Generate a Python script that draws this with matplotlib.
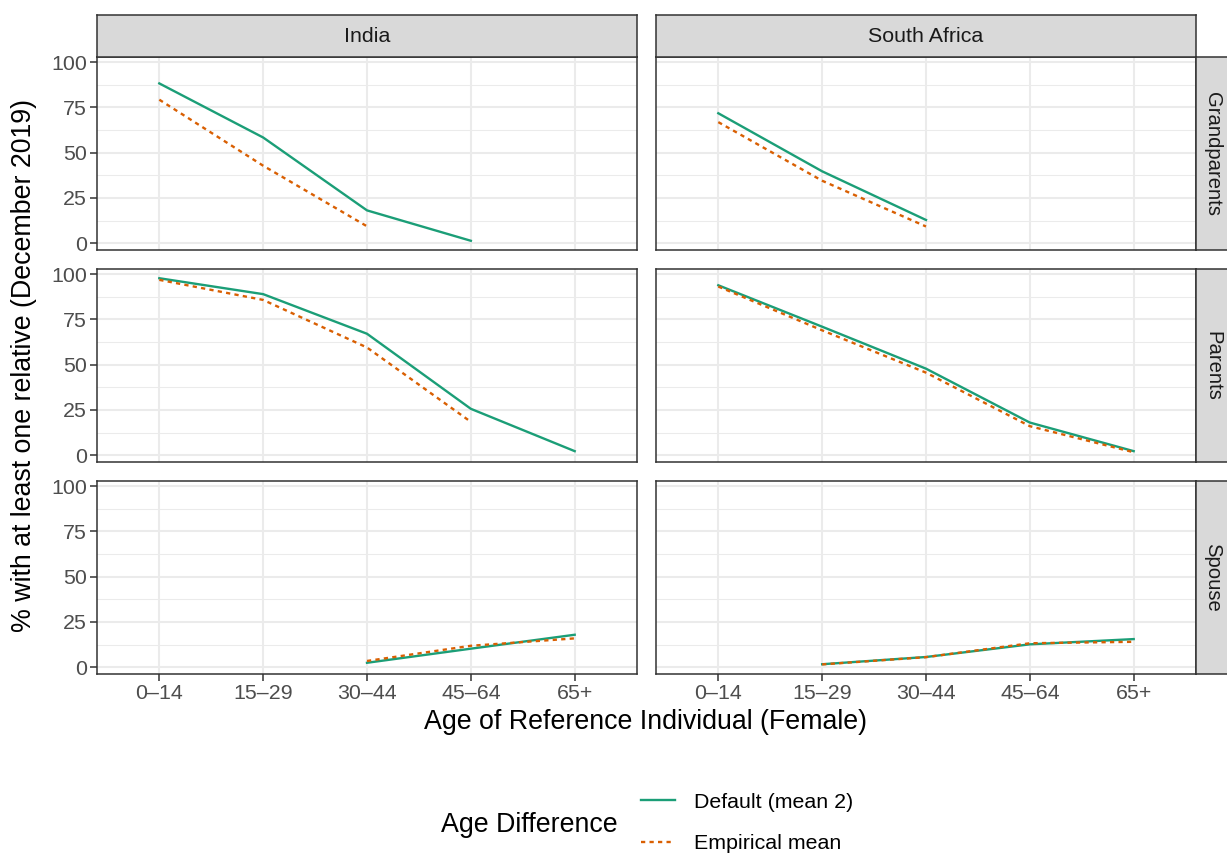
import numpy as np
import matplotlib.pyplot as plt
from matplotlib.lines import Line2D

# DATA
ages = ['0–14', '15–29', '30–44', '45–64', '65+']
countries = ['India', 'South Africa']
relatives = ['Grandparents', 'Parents', 'Spouse']
nan = np.nan

default_india = {
    'Grandparents': [88.3, 58.4, 18.1, 1.3, nan],
    'Parents': [97.8, 89.0, 67.1, 25.6, 2.2],
    'Spouse': [nan, nan, 2.4, 10.2, 17.9],
}
empirical_india = {
    'Grandparents': [79.3, 42.8, 9.3, nan, nan],
    'Parents': [96.9, 85.8, 59.5, 18.4, nan],
    'Spouse': [nan, nan, 3.4, 11.8, 15.9],
}
default_sa = {
    'Grandparents': [71.8, 39.7, 12.8, nan, nan],
    'Parents': [93.9, 71.0, 47.8, 18.0, 2.2],
    'Spouse': [nan, 1.6, 5.6, 12.6, 15.5],
}
empirical_sa = {
    'Grandparents': [66.9, 34.5, 9.2, nan, nan],
    'Parents': [93.2, 69.0, 45.6, 16.0, 1.6],
    'Spouse': [nan, 1.5, 5.5, 13.2, 14.0],
}
series = {'India': (default_india, empirical_india),
          'South Africa': (default_sa, empirical_sa)}

GREEN = '#1B9E77'
ORANGE = '#D95F02'
W, H = 1227, 855
SMALL = 15.4   # tick / strip / legend text
BIG = 19.3     # axis and legend titles
LW = 1.7
DASH = (1.8, 1.8)

fig = plt.figure(figsize=(W / 100, H / 100), dpi=100)
plt.rcParams['font.family'] = ['Liberation Sans', 'DejaVu Sans']

def box(x0, y0, x1, y1):
    # pixel box (top-left origin) -> figure fraction
    return [x0 / W, 1 - y1 / H, (x1 - x0) / W, (y1 - y0) / H]

def frame(a):
    for s in a.spines.values():
        s.set_color('#333333')
        s.set_linewidth(1.1)

col_x = [(97, 637), (656, 1196)]
row_y = [(57, 250), (269, 462), (481, 674)]
x = np.arange(len(ages))

for i, rel in enumerate(relatives):
    for j, ctry in enumerate(countries):
        x0, x1 = col_x[j]
        y0, y1 = row_y[i]
        ax = fig.add_axes(box(x0, y0, x1, y1))
        d, e = series[ctry]
        ax.plot(x, d[rel], color=GREEN, lw=LW, zorder=3)
        ax.plot(x, e[rel], color=ORANGE, lw=LW, dashes=DASH, zorder=3)
        ax.set_xlim(-0.6, 4.6)
        ax.set_ylim(-3.8, 102.9)
        ax.set_yticks([0, 25, 50, 75, 100])
        ax.set_yticks([12.5, 37.5, 62.5, 87.5], minor=True)
        ax.set_xticks(x)
        ax.grid(which='major', color='#EBEBEB', lw=1.5)
        ax.grid(which='minor', axis='y', color='#EBEBEB', lw=0.75)
        ax.set_axisbelow(True)
        frame(ax)
        ax.tick_params(which='minor', length=0)
        ax.tick_params(which='major', color='#333333', width=1.1, length=4.8,
                       labelcolor='#4D4D4D', labelsize=SMALL, pad=2.5)
        if j == 0:
            ax.set_yticklabels(['0', '25', '50', '75', '100'])
        else:
            ax.tick_params(axis='y', length=0, labelleft=False)
        if i == 2:
            ax.set_xticklabels(ages)
        else:
            ax.tick_params(axis='x', length=0, labelbottom=False)

        # strips
        if i == 0:
            sx = fig.add_axes(box(x0, 15, x1, 57))
            sx.set_facecolor('#D9D9D9')
            sx.set_xticks([]); sx.set_yticks([])
            frame(sx)
            sx.text(0.5, 0.5, ctry, ha='center', va='center', fontsize=SMALL,
                    color='#1A1A1A', transform=sx.transAxes)
        if j == 1:
            sy = fig.add_axes(box(1196, y0, 1230, y1))
            sy.set_facecolor('#D9D9D9')
            sy.set_xticks([]); sy.set_yticks([])
            frame(sy)
            sy.text(0.5, 0.5, rel, ha='center', va='center', fontsize=14.6,
                    rotation=-90, color='#1A1A1A', transform=sy.transAxes)

fig.text(646 / W, 1 - 722 / H, 'Age of Reference Individual (Female)',
         ha='center', va='center', fontsize=BIG)
fig.text(24 / W, 1 - 366 / H, '% with at least one relative (December 2019)',
         ha='center', va='center', fontsize=BIG, rotation=90)

# legend
fig.text(529 / W, 1 - 825 / H, 'Age Difference', ha='center', va='center', fontsize=BIG)
handles = [Line2D([], [], color=GREEN, lw=LW),
           Line2D([], [], color=ORANGE, lw=LW, dashes=DASH)]
fig.legend(handles, ['Default (mean 2)', 'Empirical mean'], loc='center left',
           bbox_to_anchor=(622 / W, 1 - 823 / H), frameon=False, fontsize=SMALL,
           handlelength=1.6, handletextpad=0.85, labelspacing=1.05)

fig.savefig('out.png', dpi=100, facecolor='white')
